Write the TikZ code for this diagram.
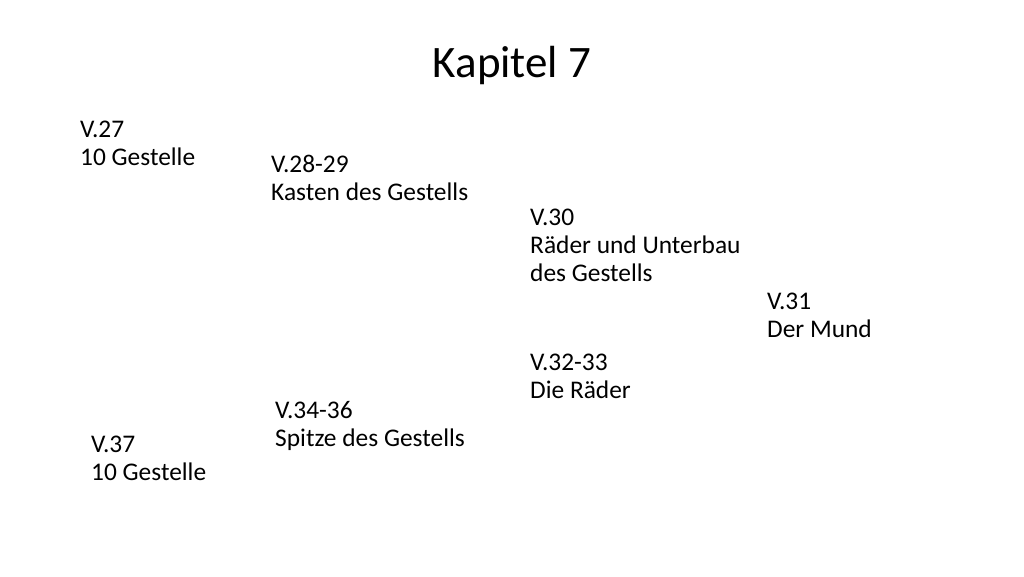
\documentclass[tikz,border=0pt]{standalone}
\usepackage{fontspec}
\setmainfont{Carlito}
\begin{document}
\begin{tikzpicture}[x=1pt,y=-1pt,
  item/.style={anchor=base west,inner sep=0pt,align=left,font=\fontsize{25.4}{28}\selectfont},
  titletext/.style={anchor=base,inner sep=0pt,font=\fontsize{45}{52}\selectfont}]
\useasboundingbox (0,0) rectangle (1024,576);
\node[titletext] (title) at (512,77) {Kapitel 7};
\node[item] (v27) at (80,165) {V.27\\10 Gestelle};
\node[item] (v28) at (271,200) {V.28-29\\Kasten des Gestells};
\node[item] (v30) at (530,281) {V.30\\Räder und Unterbau\\des Gestells};
\node[item] (v31) at (767,337) {V.31\\Der Mund};
\node[item] (v32) at (530,398) {V.32-33\\Die Räder};
\node[item] (v34) at (275,446) {V.34-36\\Spitze des Gestells};
\node[item] (v37) at (91,480) {V.37\\10 Gestelle};
\end{tikzpicture}
\end{document}
